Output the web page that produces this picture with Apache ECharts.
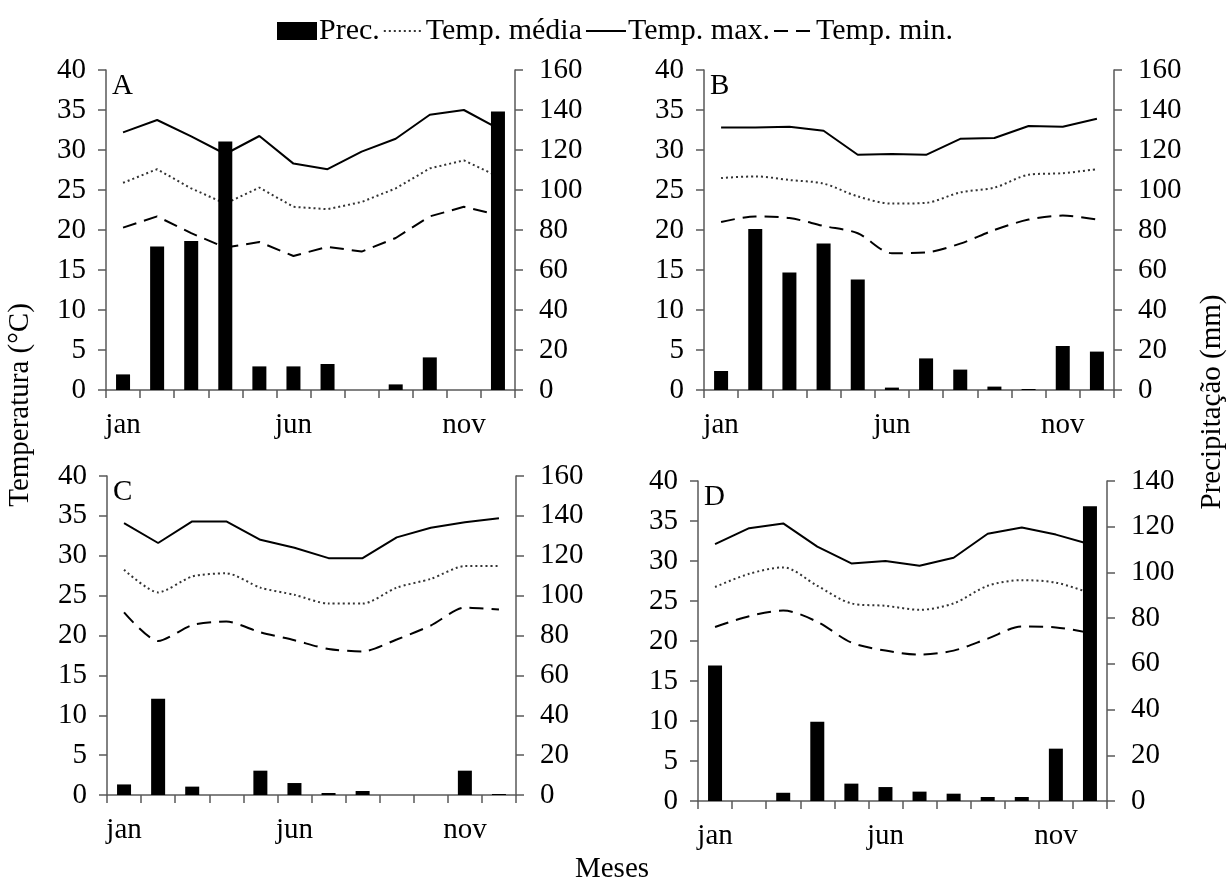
<!DOCTYPE html>
<html>
<head>
<meta charset="utf-8">
<script src="https://cdn.jsdelivr.net/npm/echarts@6/dist/echarts.min.js"></script>
<style>
html,body{margin:0;padding:0;background:#fff;}
#c{width:1231px;height:882px;}
</style>
</head>
<body>
<div id="c"></div>
<script>
const months = ['jan','fev','mar','abr','mai','jun','jul','ago','set','out','nov','dez'];
const tempTicks = [0, 40, 5];
const precTicksABC = [0, 160, 20];
const precTicksD = [0, 140, 20];
const panelLabels = ['A','B','C','D'];

// Panel A
const precA = [7.8, 71.7, 74.5, 124.3, 11.8, 11.8, 13, 0, 2.8, 16.3, 0, 139.2];
const tmedA = [25.9, 27.6, 25.2, 23.3, 25.3, 22.9, 22.6, 23.5, 25.2, 27.7, 28.7, 26.7];
const tmaxA = [32.2, 33.75, 31.7, 29.5, 31.75, 28.3, 27.6, 29.8, 31.4, 34.4, 35.0, 32.7];
const tminA = [20.3, 21.7, 19.6, 17.8, 18.5, 16.75, 17.9, 17.3, 19.0, 21.7, 22.9, 21.9];

// Panel B
const precB = [9.5, 80.5, 58.7, 73.3, 55.3, 1.2, 15.8, 10.2, 1.7, 0.5, 22, 19.2];
const tmedB = [26.5, 26.7, 26.25, 25.8, 24.2, 23.3, 23.4, 24.7, 25.3, 26.9, 27.1, 27.6];
const tmaxB = [32.8, 32.8, 32.9, 32.4, 29.4, 29.5, 29.4, 31.4, 31.5, 33.0, 32.9, 33.9];
const tminB = [21.0, 21.7, 21.5, 20.5, 19.6, 17.1, 17.2, 18.3, 20.0, 21.3, 21.8, 21.3];

// Panel C
const precC = [5.3, 48.3, 4.2, 0, 12.2, 6.0, 1.0, 2.0, 0, 0, 12.2, 0.5];
const tmedC = [28.25, 25.4, 27.4, 27.8, 26.0, 25.1, 24.0, 24.0, 26.0, 27.1, 28.7, 28.7];
const tmaxC = [34.1, 31.6, 34.3, 34.3, 32.0, 31.0, 29.7, 29.7, 32.3, 33.5, 34.2, 34.7];
const tminC = [22.9, 19.3, 21.3, 21.75, 20.4, 19.4, 18.3, 18.0, 19.5, 21.25, 23.5, 23.25];

// Panel D
const precD = [59.3, 0, 3.6, 34.7, 7.6, 6.1, 4.1, 3.2, 1.75, 1.75, 22.9, 128.9];
const tmedD = [26.75, 28.4, 29.2, 26.9, 24.7, 24.4, 23.9, 24.7, 26.9, 27.6, 27.3, 26.0];
const tmaxD = [32.1, 34.1, 34.7, 31.8, 29.7, 30.0, 29.4, 30.4, 33.4, 34.2, 33.3, 32.1];
const tminD = [21.75, 23.1, 23.8, 22.4, 19.8, 18.8, 18.3, 18.8, 20.3, 21.8, 21.7, 21.0];

const panels = [
  {prec: precA, tmed: tmedA, tmax: tmaxA, tmin: tminA, pt: precTicksABC, smooth: false},
  {prec: precB, tmed: tmedB, tmax: tmaxB, tmin: tminB, pt: precTicksABC, smooth: 0.3},
  {prec: precC, tmed: tmedC, tmax: tmaxC, tmin: tminC, pt: precTicksABC, smooth: 0.25},
  {prec: precD, tmed: tmedD, tmax: tmaxD, tmin: tminD, pt: precTicksD, smooth: 0.3}
];

const gridsLayout = [
  {left: 106, top: 70, width: 409, height: 320},
  {left: 704, top: 70, width: 410, height: 320},
  {left: 107, top: 476, width: 409, height: 319},
  {left: 698, top: 481, width: 409, height: 320}
];

const FONT = 'Liberation Serif';
const AX = '#595959';
const FS = 29;

const grid = [], xAxis = [], yAxis = [], series = [], graphic = [];
panels.forEach((p, i) => {
  grid.push(Object.assign({}, gridsLayout[i]));
  xAxis.push({
    type: 'category', gridIndex: i, data: months, boundaryGap: true,
    axisLine: {lineStyle: {color: AX, width: 1.5}},
    axisTick: {show: true, interval: 0, length: 8, inside: false, lineStyle: {color: AX, width: 1.5}},
    axisLabel: {interval: (idx) => idx % 5 === 0, margin: 21, color: '#000', fontFamily: FONT, fontSize: FS}
  });
  yAxis.push({
    type: 'value', gridIndex: i, min: tempTicks[0], max: tempTicks[1], interval: tempTicks[2], position: 'left',
    axisLine: {show: true, lineStyle: {color: AX, width: 1.5}},
    axisTick: {show: true, length: 8, lineStyle: {color: AX, width: 1.5}},
    splitLine: {show: false},
    axisLabel: {margin: 20, color: '#000', fontFamily: FONT, fontSize: FS}
  });
  yAxis.push({
    type: 'value', gridIndex: i, min: p.pt[0], max: p.pt[1], interval: p.pt[2], position: 'right',
    axisLine: {show: true, lineStyle: {color: AX, width: 1.5}},
    axisTick: {show: true, length: 8, lineStyle: {color: AX, width: 1.5}},
    splitLine: {show: false},
    axisLabel: {margin: 24, color: '#000', fontFamily: FONT, fontSize: FS}
  });
  series.push({
    name: 'Prec.', type: 'bar', xAxisIndex: i, yAxisIndex: 2 * i + 1, data: p.prec,
    barWidth: 14, itemStyle: {color: '#000'}, z: 5, animation: false
  });
  series.push({
    name: 'Temp. média', type: 'line', xAxisIndex: i, yAxisIndex: 2 * i, data: p.tmed,
    symbol: 'none', smooth: p.smooth, itemStyle: {color: '#000'},
    lineStyle: {color: '#333', width: 2, type: [2, 3]}, z: 3, animation: false
  });
  series.push({
    name: 'Temp. max.', type: 'line', xAxisIndex: i, yAxisIndex: 2 * i, data: p.tmax,
    symbol: 'none', smooth: false, itemStyle: {color: '#000'},
    lineStyle: {color: '#000', width: 2, type: 'solid'}, z: 3, animation: false
  });
  series.push({
    name: 'Temp. min.', type: 'line', xAxisIndex: i, yAxisIndex: 2 * i, data: p.tmin,
    symbol: 'none', smooth: p.smooth, itemStyle: {color: '#000'},
    lineStyle: {color: '#000', width: 2, type: [14, 8]}, z: 3, animation: false
  });
  graphic.push({
    type: 'text', left: gridsLayout[i].left + 6, top: gridsLayout[i].top + 2,
    style: {text: panelLabels[i], fontFamily: FONT, fontSize: FS, fill: '#000'}
  });
});

graphic.push({
  type: 'text', x: 20, y: 405, rotation: Math.PI / 2,
  style: {text: 'Temperatura (°C)', fontFamily: FONT, fontSize: FS, fill: '#000', align: 'center', verticalAlign: 'middle'}
});
graphic.push({
  type: 'text', x: 1212, y: 402, rotation: Math.PI / 2,
  style: {text: 'Precipitação (mm)', fontFamily: FONT, fontSize: FS, fill: '#000', align: 'center', verticalAlign: 'middle'}
});
graphic.push({
  type: 'text', x: 612, y: 869,
  style: {text: 'Meses', fontFamily: FONT, fontSize: FS, fill: '#000', align: 'center', verticalAlign: 'middle'}
});

const lineLegendStyle = {opacity: 0, color: 'transparent', borderWidth: 0};
const chart = echarts.init(document.getElementById('c'), null, {renderer: 'canvas'});
chart.setOption({
  backgroundColor: '#fff',
  animation: false,
  legend: {
    left: 272, top: 11, itemGap: 3, itemWidth: 40, itemHeight: 18,
    data: [
      {name: 'Prec.', icon: 'rect'},
      {name: 'Temp. média', itemStyle: lineLegendStyle},
      {name: 'Temp. max.', itemStyle: lineLegendStyle},
      {name: 'Temp. min.', itemStyle: lineLegendStyle}
    ],
    textStyle: {fontFamily: FONT, fontSize: 30, color: '#000', padding: [0, 0, 0, -3]}
  },
  grid, xAxis, yAxis, series, graphic
});
</script>
</body>
</html>
